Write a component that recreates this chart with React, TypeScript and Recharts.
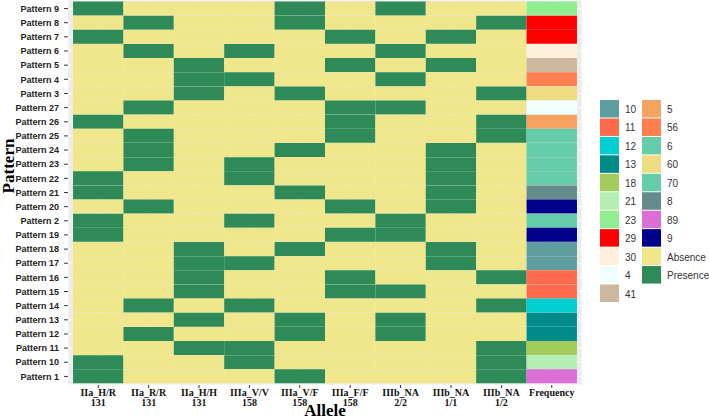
import { BarChart, Bar, Cell, XAxis, YAxis, CartesianGrid } from "recharts";

// rows top to bottom, as in the figure
const patterns = [
  "Pattern 9", "Pattern 8", "Pattern 7", "Pattern 6", "Pattern 5", "Pattern 4", "Pattern 3",
  "Pattern 27", "Pattern 26", "Pattern 25", "Pattern 24", "Pattern 23", "Pattern 22", "Pattern 21",
  "Pattern 20", "Pattern 2", "Pattern 19", "Pattern 18", "Pattern 17", "Pattern 16", "Pattern 15",
  "Pattern 14", "Pattern 13", "Pattern 12", "Pattern 11", "Pattern 10", "Pattern 1",
];

// allele columns (1-based) marked as present for each pattern
const present = [
  [1, 5, 7], [2, 5, 9], [1, 6, 8], [2, 4, 7], [3, 6, 8], [3, 4, 7], [3, 5, 9],
  [2, 6, 7], [1, 6, 9], [2, 6, 9], [2, 5, 8], [2, 4, 8], [1, 4, 8], [1, 5, 8],
  [2, 6, 8], [1, 4, 7], [1, 6, 7], [3, 5, 8], [3, 4, 8], [3, 6, 9], [3, 6, 7],
  [2, 4, 9], [3, 5, 7], [2, 5, 7], [3, 4, 9], [1, 4, 9], [1, 5, 9],
];

const frequency = [
  "23", "29", "29", "30", "41", "56", "60", "4", "5", "6", "6", "6", "6", "8",
  "9", "70", "9", "10", "10", "11", "11", "12", "13", "13", "18", "21", "89",
];

const alleleLabels = [
  ["IIa_H/R", "131"], ["IIa_R/R", "131"], ["IIa_H/H", "131"],
  ["IIIa_V/V", "158"], ["IIIa_V/F", "158"], ["IIIa_F/F", "158"],
  ["IIIb_NA", "2/2"], ["IIIb_NA", "1/1"], ["IIIb_NA", "1/2"],
  ["Frequency"],
];

const fillColors: Record<string, string> = {
  "10": "#5F9EA0",
  "11": "#FF6A4D",
  "12": "#00CED1",
  "13": "#008B8B",
  "18": "#A2CD5A",
  "21": "#B4EEB4",
  "23": "#90EE90",
  "29": "#FF0000",
  "30": "#FFEFDB",
  "4": "#F0FFFF",
  "41": "#CDB79E",
  "5": "#F4A460",
  "56": "#FF7F50",
  "6": "#66CDAA",
  "60": "#EEDC82",
  "70": "#66CDAA",
  "8": "#668B8B",
  "89": "#DA70D6",
  "9": "#00008B",
  Absence: "#F0E68C",
  Presence: "#2E8B57",
};

// legend keys in plain string order, as ggplot lists them
const legendKeys = Object.keys(fillColors).sort();

const COLS = alleleLabels.length;

const data = patterns.map((pattern) => {
  const row: Record<string, string | number> = { pattern };
  for (let c = 0; c < COLS; c++) row[`c${c}`] = 1;
  return row;
});

const cellColor = (r: number, c: number) => {
  if (c === COLS - 1) return fillColors[frequency[r]];
  return present[r].includes(c + 1) ? fillColors.Presence : fillColors.Absence;
};

const AlleleTick = (props: any) => {
  const { x, y, payload } = props;
  const lines = alleleLabels[Math.round(payload.value - 0.5)] || [];
  return (
    <g>
      {lines.map((line, i) => (
        <text
          key={i}
          x={x}
          y={y + 6 + i * 9.5}
          textAnchor="middle"
          fontFamily="'Liberation Serif', 'Times New Roman', serif"
          fontWeight="bold"
          fontSize={10}
          fill="#111"
        >
          {line}
        </text>
      ))}
    </g>
  );
};

export default function App() {
  return (
    <div style={{ position: "absolute", left: 0, top: 0, width: 709, height: 418, background: "#fff" }}>
      <BarChart
        width={709}
        height={418}
        data={data}
        layout="vertical"
        margin={{ top: 0, right: 127, bottom: 0, left: 0 }}
        barCategoryGap={0}
        barGap={0}
      >
        <CartesianGrid fill="#EBEBEB" stroke="#fff" strokeWidth={1} />
        <XAxis
          type="number"
          domain={[-0.1, 10.1]}
          ticks={[0.5, 1.5, 2.5, 3.5, 4.5, 5.5, 6.5, 7.5, 8.5, 9.5]}
          allowDataOverflow
          height={33}
          tickSize={3}
          tickMargin={2}
          axisLine={false}
          tickLine={{ stroke: "#333" }}
          tick={<AlleleTick />}
          interval={0}
        />
        <YAxis
          type="category"
          dataKey="pattern"
          width={68}
          padding={{ top: 1.5, bottom: 1.5 }}
          tickSize={4}
          tickMargin={5}
          axisLine={false}
          tickLine={{ stroke: "#333" }}
          interval={0}
          tick={{
            fontSize: 9,
            fontWeight: 700,
            fill: "#222",
            fontFamily: "'Liberation Sans', Arial, sans-serif",
          }}
        />
        {alleleLabels.map((_, c) => (
          <Bar key={c} dataKey={`c${c}`} stackId="s" isAnimationActive={false}>
            {data.map((_, r) => (
              <Cell key={r} fill={cellColor(r, c)} />
            ))}
          </Bar>
        ))}
      </BarChart>
      <svg
        width={709}
        height={418}
        style={{ position: "absolute", left: 0, top: 0, pointerEvents: "none" }}
      >
        <text
          x={325}
          y={416}
          textAnchor="middle"
          fontFamily="'Liberation Serif', 'Times New Roman', serif"
          fontWeight="bold"
          fontSize={17}
          fill="#000"
        >
          Allele
        </text>
        <text
          transform="translate(14, 166) rotate(-90)"
          textAnchor="middle"
          fontFamily="'Liberation Serif', 'Times New Roman', serif"
          fontWeight="bold"
          fontSize={17}
          fill="#000"
        >
          Pattern
        </text>
        {legendKeys.map((key, i) => {
          const col = i < 11 ? 0 : 1;
          const row = col === 0 ? i : i - 11;
          const sx = col === 0 ? 600 : 642;
          const sy = 100 + row * 18.45;
          return (
            <g key={key}>
              <rect x={sx} y={sy} width={19} height={17.5} fill={fillColors[key]} />
              <text
                x={sx + 25}
                y={sy + 13}
                fontFamily="'Liberation Sans', Arial, sans-serif"
                fontSize={10}
                fill="#333"
              >
                {key}
              </text>
            </g>
          );
        })}
      </svg>
    </div>
  );
}
